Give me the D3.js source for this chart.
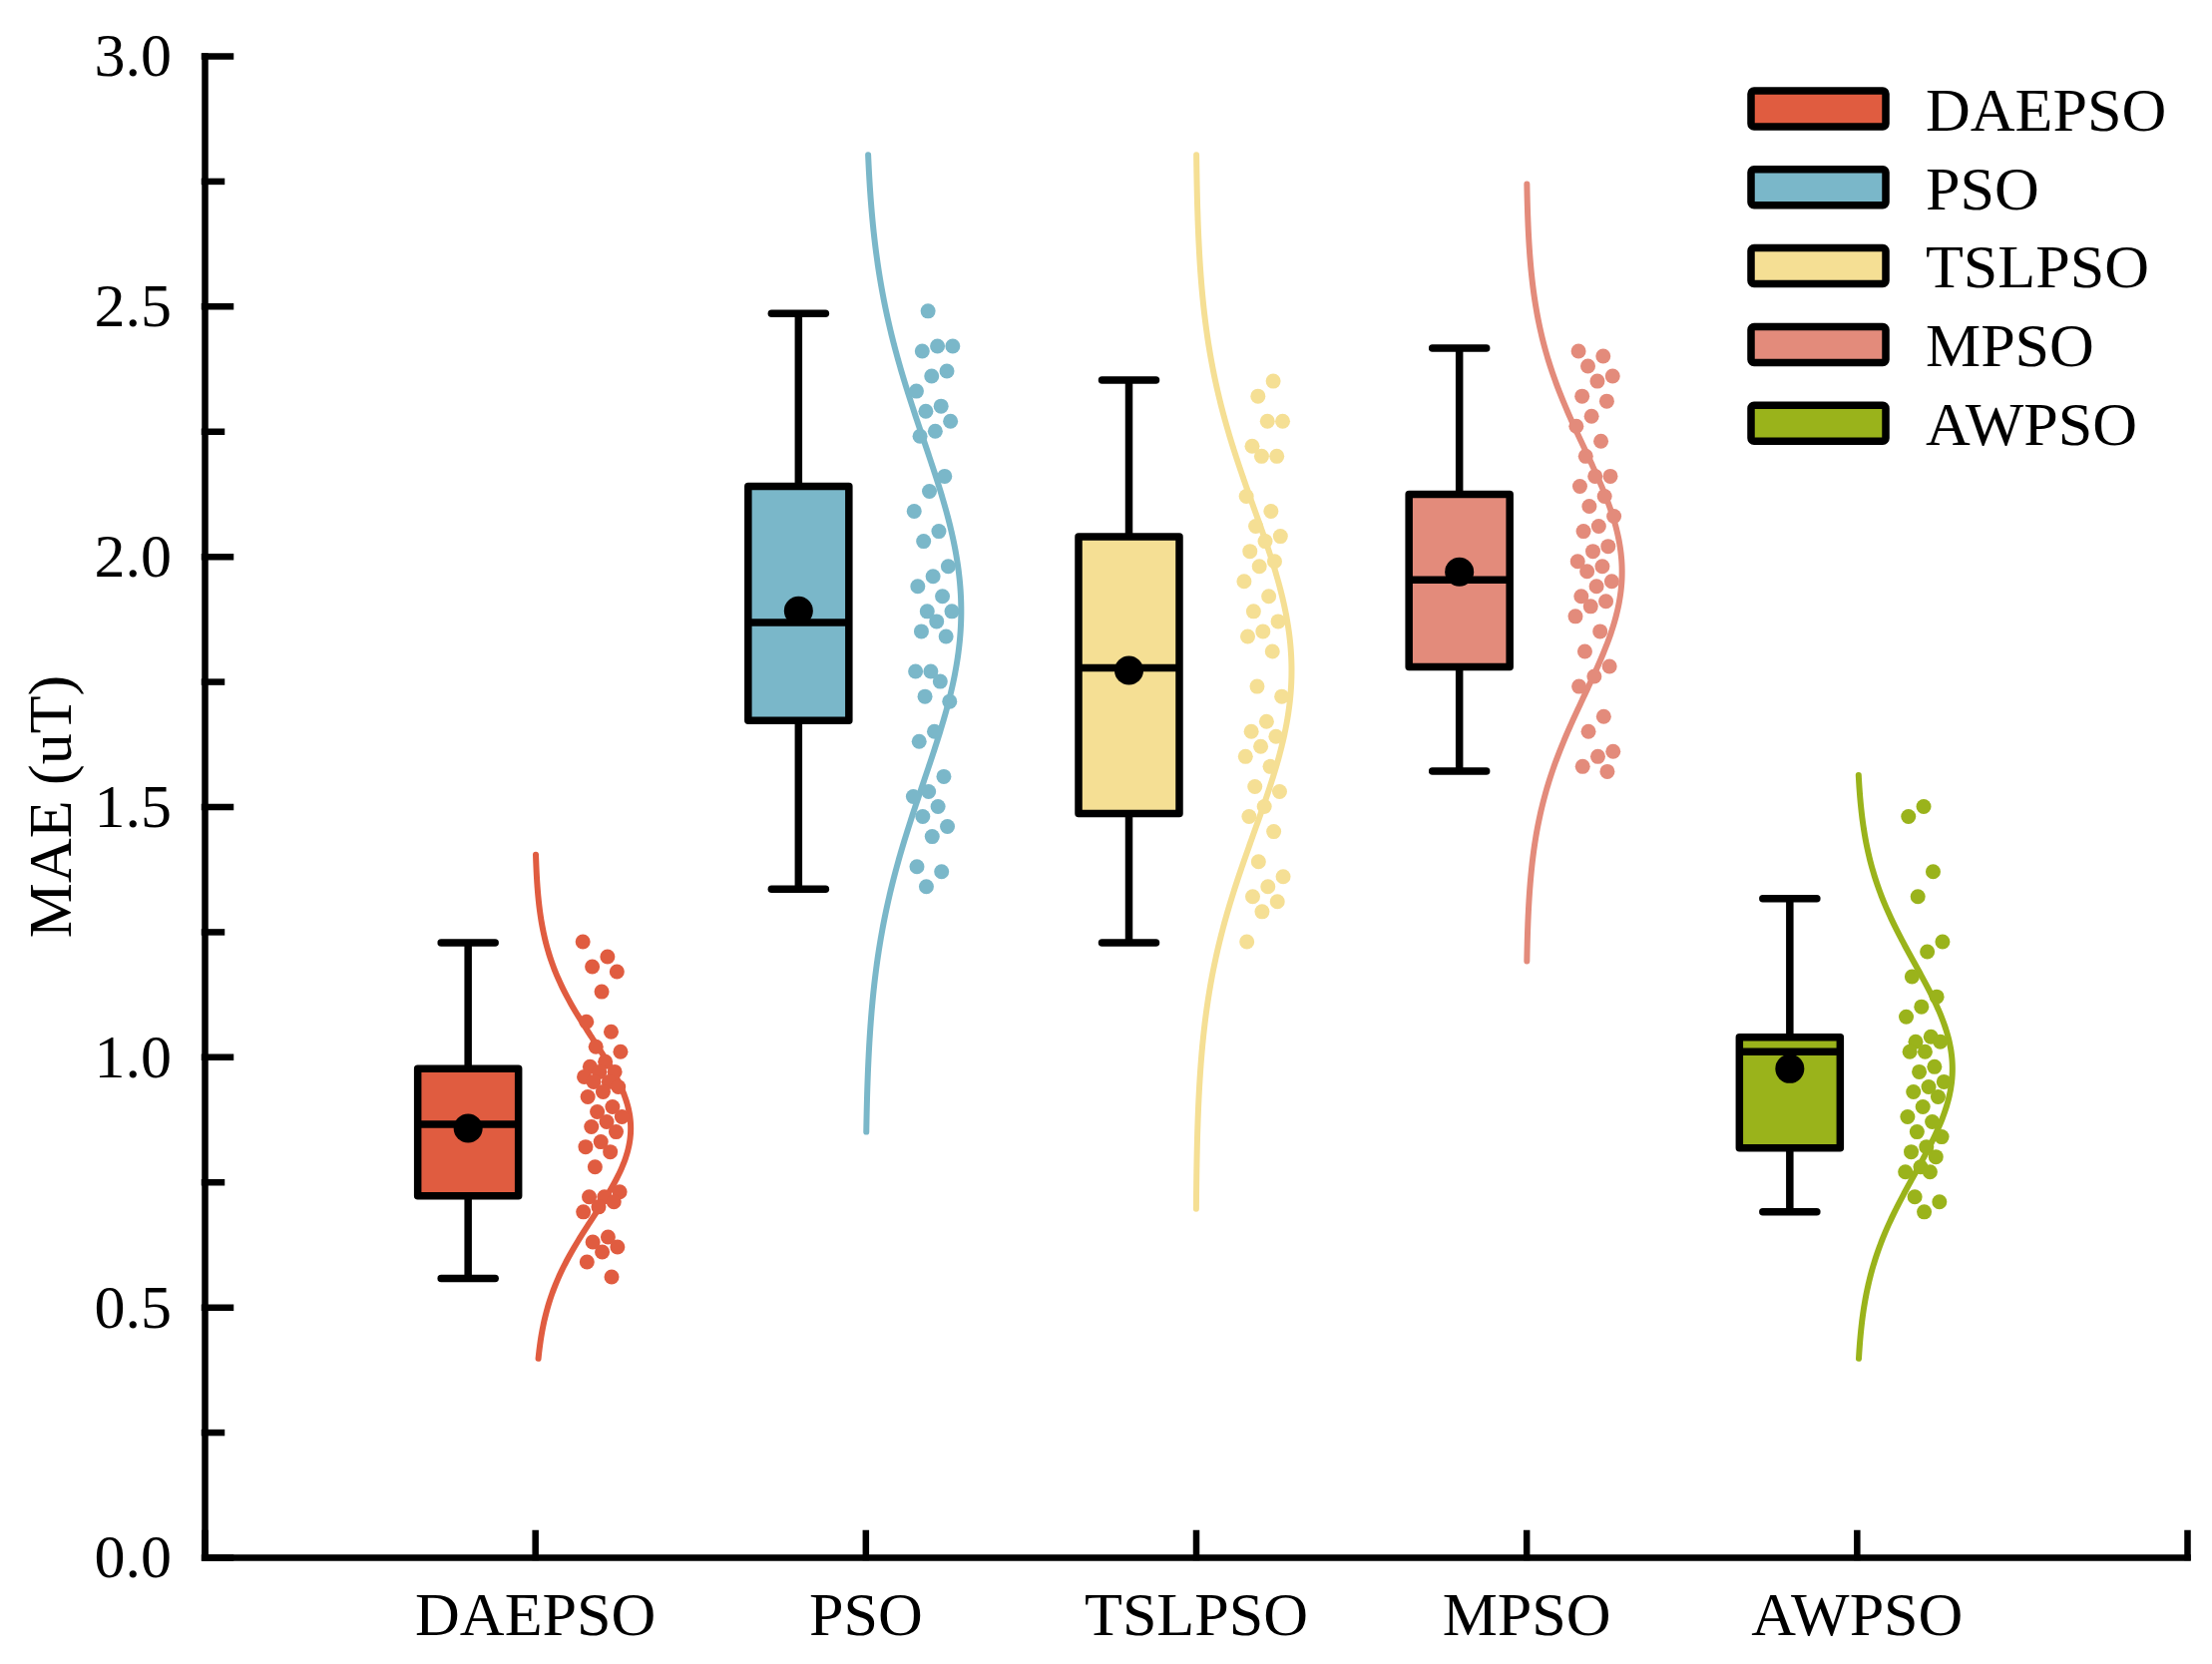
<!DOCTYPE html>
<html>
<head>
<meta charset="utf-8">
<script src="https://cdn.jsdelivr.net/npm/d3@7"></script>
<style>
  body { margin: 0; background: #fff; }
  svg { display: block; }
  text { font-family: "Liberation Serif", "Times New Roman", serif; }
</style>
</head>
<body>
<div class="chart"></div>
<script>
// categories and colours
const categories = ["DAEPSO", "PSO", "TSLPSO", "MPSO", "AWPSO"]
const colors = ["#E05C40", "#7AB7C9", "#F5DF94", "#E38B7B", "#9AB31B"]

// box statistics
const whiskerLow  = [0.557, 1.335, 1.228, 1.571, 0.690]
const q1          = [0.722, 1.672, 1.486, 1.779, 0.818]
const medians     = [0.865, 1.868, 1.777, 1.953, 1.010]
const q3          = [0.976, 2.140, 2.039, 2.124, 1.039]
const whiskerHigh = [1.228, 2.485, 2.352, 2.416, 1.316]
const means       = [0.857, 1.891, 1.772, 1.969, 0.976]

// extent of each distribution curve
const curveLow  = [0.397, 0.850, 0.696, 1.191, 0.397]
const curveHigh = [1.404, 2.802, 2.802, 2.744, 1.563]

// raw points
const daepso = [1.23, 1.20, 1.18, 1.17, 1.13, 1.07, 1.05, 1.02, 1.01, 0.99, 0.98, 0.97, 0.97, 0.96,
  0.95, 0.95, 0.94, 0.93, 0.92, 0.90, 0.89, 0.88, 0.87, 0.86, 0.85, 0.83, 0.82, 0.81, 0.78,
  0.73, 0.72, 0.72, 0.71, 0.70, 0.69, 0.64, 0.63, 0.62, 0.61, 0.59, 0.56]
const pso = [2.49, 2.42, 2.42, 2.41, 2.37, 2.36, 2.33, 2.30, 2.29, 2.27, 2.25, 2.24, 2.16, 2.13,
  2.09, 2.05, 2.03, 1.98, 1.96, 1.94, 1.92, 1.89, 1.89, 1.87, 1.85, 1.84, 1.77, 1.77, 1.75,
  1.72, 1.71, 1.65, 1.63, 1.56, 1.53, 1.52, 1.50, 1.48, 1.46, 1.44, 1.38, 1.37, 1.34]
const tslpso = [2.35, 2.32, 2.27, 2.27, 2.22, 2.20, 2.20, 2.12, 2.09, 2.06, 2.04, 2.03, 2.01, 1.99,
  1.98, 1.95, 1.92, 1.89, 1.87, 1.85, 1.84, 1.81, 1.74, 1.72, 1.67, 1.65, 1.64, 1.62, 1.60,
  1.58, 1.54, 1.53, 1.50, 1.48, 1.45, 1.39, 1.36, 1.34, 1.32, 1.31, 1.29, 1.23]
const mpso = [2.41, 2.40, 2.38, 2.36, 2.35, 2.32, 2.31, 2.28, 2.26, 2.23, 2.20, 2.16, 2.16, 2.14,
  2.12, 2.10, 2.08, 2.06, 2.05, 2.02, 2.01, 1.99, 1.98, 1.97, 1.95, 1.94, 1.92, 1.91, 1.90,
  1.88, 1.85, 1.81, 1.78, 1.76, 1.74, 1.68, 1.65, 1.61, 1.60, 1.58, 1.57]
const awpso = [1.50, 1.48, 1.37, 1.32, 1.23, 1.21, 1.16, 1.12, 1.10, 1.08, 1.04, 1.03, 1.03, 1.01,
  1.01, 0.98, 0.97, 0.95, 0.94, 0.93, 0.92, 0.90, 0.88, 0.87, 0.85, 0.84, 0.82, 0.81, 0.80,
  0.78, 0.77, 0.77, 0.72, 0.71, 0.69]
const allPoints = [daepso, pso, tslpso, mpso, awpso]

const W = 2217, H = 1668
const margin = ({top: 56, right: 25, bottom: 107, left: 205})

const x = d3.scaleLinear().domain([0, 6]).range([margin.left, W - margin.right])
const y = d3.scaleLinear().domain([0, 3]).range([H - margin.bottom, margin.top])

const svg = d3.select(".chart").append("svg")
    .attr("width", W)
    .attr("height", H)

const lw = 7.5
const boxW = 101, boxOff = 67, capW = 54
const curveW = 96
const dotOff = 68, dotSpread = 20

// axes
const yAxis = d3.axisLeft(y)
    .tickValues(d3.range(0, 3.01, 0.5))
    .tickFormat(d3.format(".1f"))
    .tickSizeInner(-26)
    .tickSizeOuter(0)
    .tickPadding(33)

const yMinor = d3.axisLeft(y)
    .tickValues(d3.range(0.25, 3, 0.5))
    .tickFormat("")
    .tickSizeInner(-17)
    .tickSizeOuter(0)

const xAxis = d3.axisBottom(x)
    .tickValues(d3.range(0, 7))
    .tickFormat(d => (d >= 1 && d <= 5) ? categories[d - 1] : "")
    .tickSizeInner(-24)
    .tickSizeOuter(0)
    .tickPadding(34)

const gx = svg.append("g")
    .attr("transform", `translate(0, ${y(0)})`)
    .call(xAxis)
const gy = svg.append("g")
    .attr("transform", `translate(${x(0)}, 0)`)
    .call(yAxis)
const gym = svg.append("g")
    .attr("transform", `translate(${x(0)}, 0)`)
    .call(yMinor)
gym.select(".domain").remove()

svg.selectAll(".domain, .tick line")
    .attr("stroke", "#000")
    .attr("stroke-width", 6.5)
    .attr("stroke-linecap", "square")
svg.selectAll(".tick text")
    .attr("fill", "#000")
    .style("font-size", "62px")

svg.append("text")
    .attr("transform", `translate(71, ${(y(0) + y(3)) / 2}) rotate(-90)`)
    .attr("text-anchor", "middle")
    .style("font-size", "62px")
    .text("MAE (uT)")

// distribution curves
categories.forEach((c, i) => {
    const cx = x(i + 1)
    const m = means[i]
    const s = d3.deviation(allPoints[i])
    const vals = d3.range(curveLow[i], curveHigh[i], 0.005).concat([curveHigh[i]])
    const line = d3.line()
        .x(v => cx + curveW * Math.exp(-((v - m) ** 2) / (2 * s * s)))
        .y(v => y(v))
        .curve(d3.curveBasis)
    svg.append("path")
        .datum(vals)
        .attr("d", line)
        .attr("fill", "none")
        .attr("stroke", colors[i])
        .attr("stroke-width", 6)
        .attr("stroke-linecap", "round")
})

// jittered points
categories.forEach((c, i) => {
    const cx = x(i + 1)
    svg.append("g").selectAll("circle")
        .data(allPoints[i])
        .join("circle")
        .attr("cx", (d, k) => cx + dotOff + dotSpread * (((k * 0.6180339887 + i * 0.37) % 1) * 2 - 1))
        .attr("cy", d => y(d))
        .attr("r", 7.5)
        .attr("fill", colors[i])
})

// boxes
categories.forEach((c, i) => {
    const bx = x(i + 1) - boxOff
    const g = svg.append("g")
    g.append("line")
        .attr("x1", bx).attr("x2", bx)
        .attr("y1", y(whiskerLow[i])).attr("y2", y(whiskerHigh[i]))
        .attr("stroke", "#000").attr("stroke-width", lw)
    ;[whiskerLow[i], whiskerHigh[i]].forEach(v => {
        g.append("line")
            .attr("x1", bx - capW / 2).attr("x2", bx + capW / 2)
            .attr("y1", y(v)).attr("y2", y(v))
            .attr("stroke", "#000").attr("stroke-width", lw)
            .attr("stroke-linecap", "round")
    })
    g.append("rect")
        .attr("x", bx - boxW / 2)
        .attr("width", boxW)
        .attr("y", y(q3[i]))
        .attr("height", y(q1[i]) - y(q3[i]))
        .attr("fill", colors[i])
        .attr("stroke", "#000")
        .attr("stroke-width", lw)
        .attr("stroke-linejoin", "round")
    g.append("line")
        .attr("x1", bx - boxW / 2).attr("x2", bx + boxW / 2)
        .attr("y1", y(medians[i])).attr("y2", y(medians[i]))
        .attr("stroke", "#000").attr("stroke-width", lw)
    g.append("circle")
        .attr("cx", bx)
        .attr("cy", y(means[i]))
        .attr("r", 14.5)
        .attr("fill", "#000")
})

// legend
const legend = svg.append("g")
    .attr("transform", "translate(1755, 109)")
categories.forEach((c, i) => {
    const row = legend.append("g").attr("transform", `translate(0, ${i * 78.8})`)
    row.append("rect")
        .attr("x", 0).attr("y", -18)
        .attr("width", 135).attr("height", 36)
        .attr("rx", 3)
        .attr("fill", colors[i])
        .attr("stroke", "#000")
        .attr("stroke-width", lw)
    row.append("text")
        .attr("x", 175)
        .attr("y", 0)
        .attr("dy", "0.35em")
        .style("font-size", "62px")
        .text(c)
})
</script>
</body>
</html>
